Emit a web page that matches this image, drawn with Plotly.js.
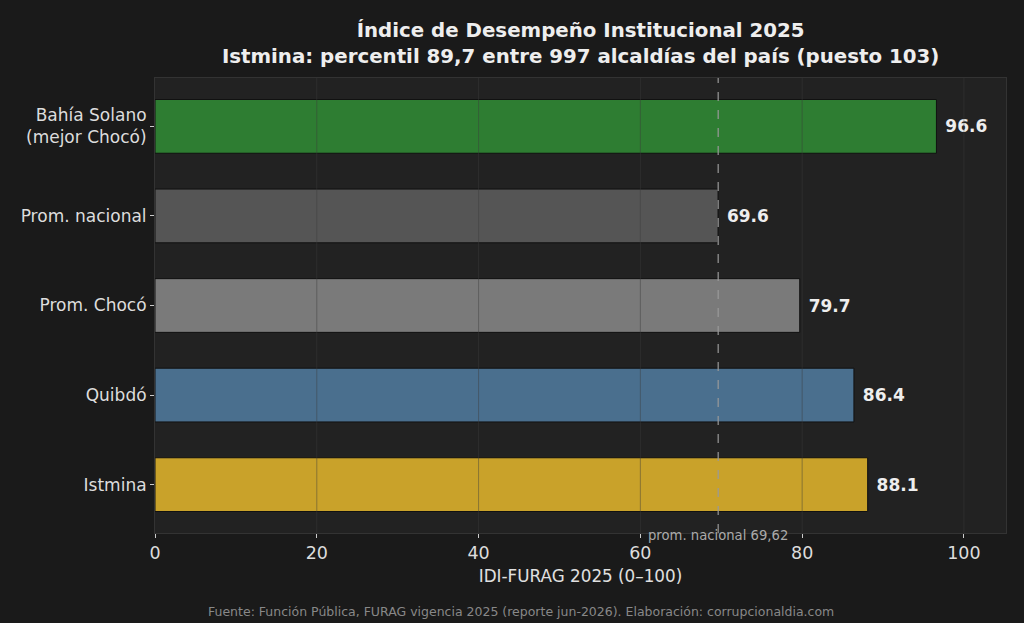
<!DOCTYPE html>
<html>
<head>
<meta charset="utf-8">
<script src="https://cdn.plot.ly/plotly-3.0.1.min.js"></script>
<style>html,body{margin:0;padding:0;background:#1a1a1a;}#chart{width:1024px;height:623px;}</style>
</head>
<body>
<div id="chart"></div>
<script>
// data
var categories = ['Bahía Solano<br>(mejor Chocó)', 'Prom. nacional', 'Prom. Chocó', 'Quibdó', 'Istmina'];
var values = [96.6, 69.6, 79.7, 86.4, 88.1];
var barColors = ['#2e7d32', '#555555', '#7a7a7a', '#4a6f8e', '#c9a22a'];
var xTicks = [0, 20, 40, 60, 80, 100];
var natAvg = 69.62;

var trace = {
  type: 'bar',
  orientation: 'h',
  y: categories,
  x: values,
  width: 0.6,
  marker: { color: barColors, line: { color: '#111111', width: 1 } },
  texttemplate: ' %{x:.1f}',
  textposition: 'outside',
  cliponaxis: false,
  textfont: { family: 'DejaVu Sans', size: 17, color: '#eeeeee', weight: 'bold' },
  hoverinfo: 'none'
};

// grid drawn over the bars, like the original
var shapes = xTicks.slice(1).map(function (t) {
  return {
    type: 'line', layer: 'above', xref: 'x', yref: 'paper',
    x0: t, x1: t, y0: 0, y1: 1,
    line: { color: 'rgba(60,60,60,0.45)', width: 1 }
  };
});
shapes.push({
  type: 'line', layer: 'above', xref: 'x', yref: 'paper',
  x0: natAvg, x1: natAvg, y0: 0, y1: 1,
  line: { color: '#999999', width: 1.2, dash: 'dash' }
});

var layout = {
  width: 1024,
  height: 623,
  margin: { l: 155, r: 18, t: 78, b: 90 },
  paper_bgcolor: '#1a1a1a',
  plot_bgcolor: '#222222',
  font: { family: 'DejaVu Sans', color: '#e0e0e0', size: 17 },
  showlegend: false,
  bargap: 0.4,
  title: {
    text: '<b>Índice de Desempeño Institucional 2025<br>Istmina: percentil 89,7 entre 997 alcaldías del país (puesto 103)</b>',
    font: { size: 19.8, color: '#eeeeee' },
    x: 0.567, xanchor: 'center', y: 0.94, yanchor: 'top'
  },
  xaxis: {
    range: [0, 105.2],
    tickvals: xTicks,
    ticks: 'outside', ticklen: 4, tickcolor: '#cccccc',
    showgrid: false, zeroline: false,
    showline: true, linecolor: '#333333', mirror: true,
    tickfont: { size: 17.5, color: '#dddddd' },
    title: { text: 'IDI-FURAG 2025 (0–100)', font: { size: 16.8, color: '#e0e0e0' }, standoff: 8 }
  },
  yaxis: {
    type: 'category',
    categoryorder: 'array',
    categoryarray: categories,
    range: [4.54, -0.54],
    ticks: 'outside', ticklen: 4, tickcolor: '#cccccc',
    showgrid: false, zeroline: false,
    showline: true, linecolor: '#333333', mirror: true,
    tickfont: { size: 17, color: '#dddddd' }
  },
  shapes: shapes,
  annotations: [
    {
      text: 'prom. nacional 69,62', xref: 'x', yref: 'paper', x: natAvg, y: 0,
      xanchor: 'center', yanchor: 'top', yshift: 7, showarrow: false,
      font: { size: 13.2, color: '#aaaaaa' }
    },
    {
      text: 'Fuente: Función Pública, FURAG vigencia 2025 (reporte jun-2026). Elaboración: corrupcionaldia.com',
      xref: 'paper', yref: 'paper', x: 0.43, y: -0.152,
      xanchor: 'center', yanchor: 'top', showarrow: false,
      font: { size: 12.5, color: '#888888' }
    }
  ]
};

Plotly.newPlot('chart', [trace], layout, { displayModeBar: false, staticPlot: true });
</script>
</body>
</html>
